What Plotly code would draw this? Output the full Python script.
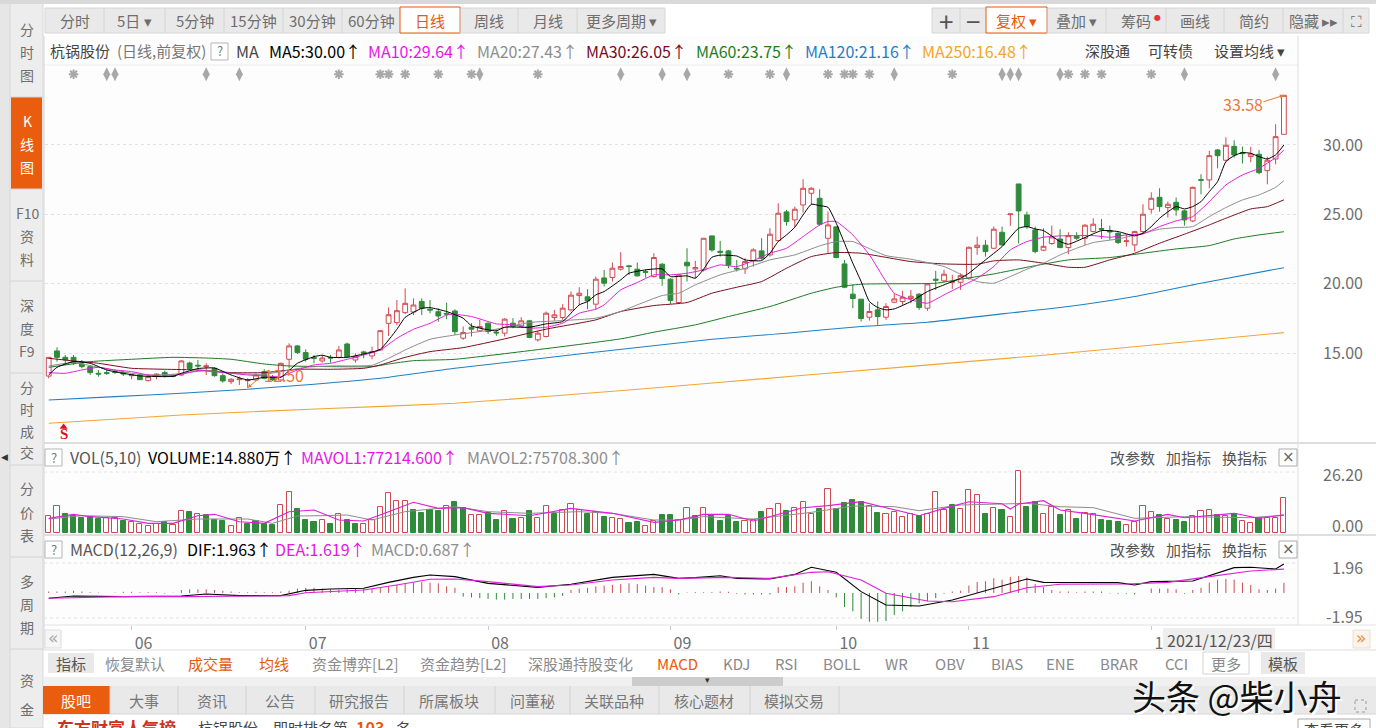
import plotly.graph_objects as go

W = 1376
H = 728
FONT = "Noto Sans CJK SC"

# daily bars, prices
open_ = [13.35,15.16,14.70,14.70,14.22,14.03,13.55,13.60,13.67,13.60,
         13.38,13.45,13.02,13.43,13.60,13.38,13.43,14.29,14.13,14.03,
         13.91,13.38,12.95,13.09,13.02,13.07,13.67,13.26,13.07,14.56,
         15.52,15.04,14.68,14.44,14.70,14.70,15.66,14.51,15.09,14.80,
         15.23,17.15,17.20,17.92,17.97,18.73,18.16,17.99,17.87,18.04,
         16.08,16.87,16.61,17.16,16.51,16.44,17.16,16.97,17.33,15.96,
         16.20,17.57,17.57,18.12,19.15,19.06,18.53,20.42,20.45,21.05,
         21.29,21.05,20.88,20.52,21.41,20.33,18.65,21.55,21.07,21.00,
         23.45,22.34,22.37,21.12,21.07,21.67,22.37,22.08,23.11,25.18,
         24.60,25.68,26.52,26.16,23.28,24.10,21.43,19.25,18.89,17.59,
         18.12,17.59,18.67,18.72,18.94,19.25,18.24,20.33,20.21,20.11,
         20.11,20.40,22.61,22.78,22.56,23.71,24.98,27.19,24.96,23.88,
         22.42,22.90,23.23,22.61,23.42,23.28,23.76,23.98,23.83,23.64,
         23.04,22.80,23.76,25.37,26.23,25.49,25.87,25.25,24.53,27.50,
         27.48,29.64,28.90,29.90,29.45,29.16,29.33,28.15,28.99,30.77]
high = [14.70,15.42,14.87,14.87,14.51,14.15,13.79,13.79,13.79,13.74,
        13.48,13.48,13.43,13.55,13.74,13.43,14.51,14.39,14.51,14.27,
        13.98,13.55,13.19,13.31,13.19,13.55,13.84,13.43,14.32,15.71,
        15.59,15.28,14.87,14.87,14.87,15.52,15.76,14.99,15.18,15.47,
        16.67,18.30,18.83,19.67,18.95,18.95,18.83,18.23,18.64,18.16,
        16.92,17.16,17.40,17.21,16.73,17.52,17.52,17.59,17.40,16.63,
        18.00,18.12,18.53,19.44,19.75,19.61,20.52,21.00,21.53,22.27,
        21.36,21.53,21.05,22.20,21.48,20.40,20.71,22.56,21.65,23.28,
        23.45,23.09,22.44,21.72,21.84,22.56,23.28,24.00,25.80,25.32,
        25.56,27.53,26.95,26.81,25.20,24.12,21.72,19.97,18.89,18.60,
        18.72,18.60,19.32,19.49,19.56,19.32,20.04,20.93,21.00,20.64,
        20.76,22.68,23.40,23.16,24.12,24.12,25.03,27.19,25.20,24.12,
        24.00,24.19,23.93,23.71,23.71,24.29,24.72,24.67,24.19,23.71,
        23.52,23.81,25.73,26.59,26.88,25.92,26.21,25.32,27.00,27.89,
        29.57,29.71,30.55,30.34,29.88,29.86,29.64,29.16,31.49,33.58]
low = [13.19,14.39,14.15,14.15,13.91,13.43,13.31,13.43,13.50,13.36,
       13.12,13.07,12.97,13.12,13.26,13.26,13.36,13.79,13.84,13.43,
       13.31,12.88,12.78,12.71,12.50,13.02,13.12,13.00,13.00,13.91,
       14.94,14.39,14.27,14.32,14.32,14.63,14.70,14.32,14.63,14.56,
       15.18,16.24,17.01,17.82,17.75,17.75,17.87,17.27,17.44,16.31,
       15.96,16.20,16.56,16.39,16.25,16.20,16.80,16.92,16.08,15.84,
       16.13,17.35,17.40,18.00,18.48,18.17,18.12,19.80,20.16,20.95,
       20.64,20.52,20.45,20.45,19.85,18.55,18.60,20.16,20.40,20.88,
       22.30,21.96,21.12,20.88,20.71,21.24,21.72,21.96,23.04,24.19,
       24.07,25.13,25.68,24.17,22.15,21.84,19.68,18.24,17.28,17.35,
       17.04,17.40,18.60,18.48,18.60,18.12,18.05,19.56,20.11,19.63,
       19.56,20.28,22.08,21.96,22.51,22.75,24.17,22.90,23.95,22.20,
       22.37,22.80,22.56,22.13,23.16,22.80,23.71,23.23,23.16,22.87,
       22.68,22.32,23.64,25.06,25.20,24.77,24.91,24.19,24.43,26.45,
       26.88,28.32,28.80,29.09,28.66,28.75,27.89,27.17,28.61,30.77]
close = [14.70,14.70,14.51,14.32,14.03,13.60,13.50,13.55,13.62,13.50,
         13.43,13.09,13.31,13.48,13.38,13.33,14.44,13.89,14.08,14.08,
         13.38,13.00,13.12,13.14,13.07,13.43,13.19,13.07,14.27,15.52,
         15.04,14.56,14.63,14.65,14.65,15.23,14.75,14.75,14.99,15.11,
         16.62,17.77,18.06,18.59,18.47,18.23,18.11,17.68,17.82,16.55,
         16.49,16.73,16.92,16.56,16.46,17.45,16.92,17.33,16.13,16.44,
         17.88,17.76,18.24,19.18,19.32,18.77,20.33,20.04,21.12,21.24,
         21.24,20.57,20.83,21.89,20.38,18.79,20.64,21.29,21.17,23.28,
         22.44,22.27,21.36,21.07,21.60,22.44,21.84,23.57,25.08,24.48,
         25.37,26.88,26.88,24.29,24.24,21.89,19.75,18.94,17.50,18.00,
         17.64,18.36,18.91,19.03,19.10,18.29,19.99,20.26,20.69,20.16,
         20.59,22.63,22.78,22.32,23.93,22.80,25.03,25.25,24.12,22.32,
         22.70,23.38,22.61,23.47,23.28,24.22,24.29,23.93,23.74,22.97,
         23.09,23.76,25.01,26.16,25.56,25.73,25.32,24.60,26.95,27.46,
         29.23,29.23,29.98,29.28,29.38,29.35,28.01,28.90,30.60,33.58]

# moving averages, read at the bars where the line bends
ma5_x = [0,1,3,5,7,9,11,15,16,18,20,22,24,26,28,30,32,33,34,36,38,40,42,43,45,46,48,
         50,51,53,54,55,58,60,62,63,64,65,66,67,69,70,72,74,75,77,78,79,80,81,83,84,86,87,88,89,90,91,92,93,94,95,96,97,98,99,
         100,101,102,104,106,108,110,111,112,113,115,117,118,119,120,122,123,125,127,129,131,132,133,134,136,137,138,139,140,141,142,143,144,145,146,147,148,149]
ma5_y = [13.43,13.98,14.39,14.27,13.79,13.55,13.36,13.33,13.55,13.89,13.93,13.43,13.07,13.26,13.26,14.27,14.75,14.85,14.70,14.70,14.94,15.28,16.72,17.58,18.23,18.28,18.00,
         17.52,16.97,16.68,16.61,16.87,16.87,17.11,17.28,17.88,18.48,18.72,19.20,19.44,20.28,20.76,21.00,21.07,20.52,20.57,20.40,21.05,21.91,22.06,22.00,21.72,21.67,22.20,23.04,23.52,24.07,24.96,25.73,25.63,25.51,24.36,22.92,21.48,20.16,18.72,
         18.29,18.12,18.19,18.72,19.44,19.92,20.40,20.76,21.24,21.72,22.68,24.00,24.12,23.95,23.83,23.04,22.85,23.33,23.83,23.76,23.45,23.64,24.12,24.72,25.56,25.39,25.56,25.92,26.64,27.36,28.80,29.23,29.45,29.40,29.16,28.99,29.28,30.00]
ma10_x = [0,2,4,6,8,10,12,14,16,18,20,22,24,26,28,30,32,34,36,38,40,42,44,46,48,49,
          51,53,54,56,58,60,62,64,66,67,69,71,73,75,77,79,81,83,85,87,89,91,93,94,95,97,99,
          101,102,104,106,108,110,112,114,116,118,120,122,124,126,128,130,132,134,136,138,140,142,144,146,148,149]
ma10_y = [13.60,13.55,13.79,13.98,13.79,13.67,13.43,13.36,13.48,13.74,13.67,13.55,13.43,13.36,13.31,13.79,14.15,14.27,14.56,14.87,15.23,16.07,16.72,17.15,17.75,17.80,
          17.64,17.28,17.11,17.04,16.80,16.87,17.16,17.88,18.17,18.48,19.56,20.09,20.64,20.64,20.76,21.00,21.36,21.24,21.67,22.20,22.56,23.40,24.24,24.48,24.48,23.52,22.08,
          20.16,19.32,18.84,18.60,19.20,19.80,20.40,21.24,22.44,23.04,23.35,23.45,23.47,23.47,23.35,23.52,23.59,24.12,24.53,24.84,25.92,27.12,27.84,28.32,29.09,29.64]
ma20_x = [0,3,6,10,12,15,19,22,26,28,31,34,39,41,43,46,49,54,58,62,66,69,71,74,76,78,81,84,87,90,93,95,97,98,
          101,104,108,110,112,114,116,118,120,122,124,126,129,132,134,136,138,140,142,144,146,148,149]
ma20_y = [14.08,14.32,13.98,13.55,13.43,13.48,13.74,13.55,13.48,13.67,13.98,14.08,14.13,14.63,15.23,16.00,16.31,16.73,17.21,17.35,17.52,18.00,18.48,19.15,19.32,19.92,20.64,21.12,21.72,22.08,22.73,23.04,23.04,22.80,
          22.03,21.77,21.24,20.69,20.16,20.04,20.52,21.05,21.48,22.08,22.56,22.97,23.23,23.64,23.93,24.05,24.12,24.84,25.49,26.04,26.40,26.95,27.43]
ma30_x = [0,3,6,10,14,18,22,26,30,34,38,40,43,46,50,55,60,66,69,73,77,80,83,86,89,92,95,98,
          104,108,112,114,117,120,123,125,128,131,134,137,140,142,145,147,149]
ma30_y = [14.63,14.44,14.27,13.91,13.84,13.79,13.60,13.60,13.84,13.84,13.91,14.15,14.70,15.11,15.40,16.03,16.73,17.40,18.00,18.43,18.65,19.32,19.75,20.16,21.12,21.96,22.25,22.20,
          21.60,21.43,21.41,21.65,21.72,21.48,21.19,21.19,21.72,22.20,22.92,23.57,24.24,24.72,25.39,25.56,26.05]
ma60_x = [0,5,10,15,19,22,26,29,34,39,41,44,49,69,73,78,82,87,92,95,98,107,110,114,118,123,128,132,136,140,143,146,149]
ma60_y = [13.98,14.39,14.56,14.70,14.65,14.56,14.22,14.08,14.03,14.03,14.22,14.46,14.56,16.03,16.51,17.04,17.64,18.36,19.32,19.75,19.97,20.04,20.33,20.71,21.19,21.72,21.89,22.20,22.51,22.75,23.23,23.52,23.75]
ma120_x = [0,8,16,24,32,40,49,80,89,98,106,115,123,131,139,149]
ma120_y = [11.63,11.87,12.11,12.40,12.76,13.19,13.91,16.00,16.44,16.92,17.23,17.83,18.36,19.08,20.04,21.16]
ma250_x = [0,16,33,49,70,90,120,149]
ma250_y = [9.95,10.55,11.00,11.39,12.35,13.35,14.85,16.48]

# volume in units of 10k lots; vol_up 1 = hollow red, 0 = solid green
volume = [7.09,11.34,7.94,7.23,6.24,6.81,5.96,6.38,6.52,5.10,
          4.54,3.83,2.98,3.83,4.54,3.40,9.36,8.93,7.94,7.52,
          5.67,5.10,2.84,6.24,3.83,4.96,3.69,3.40,11.77,17.30,
          10.21,5.53,4.68,5.53,3.97,7.94,5.67,3.97,3.69,5.53,
          11.06,16.87,13.61,13.61,9.78,8.65,9.64,9.22,11.34,13.19,
          10.49,7.66,7.66,8.51,5.67,9.22,6.10,6.52,9.36,6.38,
          11.34,7.94,9.64,12.48,9.64,8.22,8.79,6.81,6.24,6.10,
          4.40,4.68,2.84,5.25,7.66,7.52,5.39,10.49,7.37,10.49,
          7.66,5.10,7.37,4.68,5.10,5.67,8.79,10.21,12.19,9.36,
          10.49,13.05,8.08,10.21,18.58,10.35,12.76,14.04,13.33,11.49,
          8.51,7.94,8.79,6.81,7.94,7.37,7.94,17.30,9.64,11.91,
          10.07,18.15,16.17,8.22,10.49,9.93,6.66,26.20,11.06,13.05,
          7.94,11.06,7.80,9.78,5.96,8.37,8.22,5.53,5.10,4.82,
          3.40,4.82,11.34,8.79,7.52,5.96,5.67,4.68,7.09,9.36,
          9.64,7.66,7.37,7.94,5.10,4.25,6.52,6.24,6.52,14.88]
vol_up = [1,1,0,0,0,0,0,1,1,0, 1,1,1,1,0,1,1,0,1,0, 0,0,1,1,0,0,0,0,1,1,
          0,0,0,1,0,1,0,0,1,1, 1,1,1,1,0,0,0,0,1,0, 0,1,1,0,0,1,0,1,0,1,
          1,0,1,1,1,0,1,0,1,1, 0,0,1,1,0,0,1,1,0,1, 0,0,0,0,1,1,0,1,1,0,
          1,1,1,0,1,0,0,0,0,1, 0,1,1,1,1,0,1,1,1,0, 1,1,1,0,1,0,1,1,0,0,
          1,1,0,1,0,1,1,0,0,0, 1,1,1,1,0,1,0,0,1,1, 1,0,1,0,1,1,0,1,1,1]
mavol1_x = [0,3,5,9,12,15,18,20,23,26,29,32,35,38,41,44,47,50,53,58,63,68,73,76,79,82,85,89,91,94,98,101,105,108,111,115,116,117,120,122,125,131,135,137,143,146,149]
mavol1_y = [6.24,7.94,6.95,5.96,4.11,4.11,7.37,7.94,4.82,4.11,9.08,9.78,5.53,5.10,9.08,13.05,10.49,10.78,8.37,7.37,10.49,8.37,4.54,5.53,7.94,7.94,5.10,9.08,10.78,11.63,13.33,10.78,7.37,10.49,13.33,12.48,10.21,12.34,13.75,9.78,8.37,5.10,7.94,6.52,8.37,6.24,7.72]
mavol2_x = [0,4,9,13,18,24,27,30,33,36,39,43,49,53,58,64,68,73,76,79,85,92,97,102,105,110,118,122,126,131,137,145,149]
mavol2_y = [5.96,7.37,6.95,4.82,5.96,5.96,4.11,7.23,7.37,7.66,5.53,9.08,11.20,9.08,8.37,9.08,8.37,5.53,5.53,6.95,5.96,8.79,11.49,11.20,9.50,11.91,12.62,11.20,10.78,6.24,6.95,6.52,7.57]

# MACD
dif_x = [0,3,9,16,19,23,28,31,34,38,41,44,46,49,53,59,63,68,73,76,78,81,83,87,90,92,95,98,101,105,109,113,118,120,129,131,133,138,143,145,148,149]
dif_y = [-0.36,-0.20,-0.25,-0.20,-0.07,-0.18,-0.18,0.18,0.27,0.32,0.72,1.06,1.22,1.11,0.65,0.38,0.59,1.06,1.26,0.99,1.04,1.17,0.99,0.95,1.26,1.74,1.40,0.09,-0.81,-0.88,-0.47,0.14,0.95,0.72,0.70,0.54,0.77,0.81,1.72,1.74,1.63,1.963]
dea_x = [0,9,16,29,31,38,42,46,49,53,59,63,68,73,76,82,87,92,94,98,101,106,109,114,118,122,130,135,140,145,149]
dea_y = [-0.36,-0.25,-0.25,-0.18,0.02,0.20,0.54,0.93,0.95,0.77,0.43,0.54,0.88,1.06,0.99,1.06,0.99,1.40,1.44,0.88,-0.02,-0.54,-0.59,-0.25,0.36,0.59,0.61,0.72,1.11,1.49,1.619]
macd = [0.10,0.10,0.10,0.15,0.10,0.05,0.03,0.00,0.03,0.08,
        0.08,0.05,0.06,0.05,-0.04,0.02,0.20,0.25,0.25,0.25,
        0.20,0.15,0.10,0.05,0.05,0.08,0.05,0.05,0.10,0.15,
        0.30,0.35,0.35,0.30,0.25,0.20,0.25,0.30,0.30,0.30,
        0.35,0.45,0.55,0.65,0.70,0.75,0.70,0.65,0.45,0.35,
        -0.25,-0.30,-0.35,-0.40,-0.45,-0.45,-0.40,-0.40,-0.40,-0.40,
        -0.35,-0.30,-0.20,0.20,0.30,0.35,0.45,0.50,0.55,0.60,
        0.65,0.60,0.50,0.40,0.40,0.25,-0.10,0.03,0.06,0.05,
        0.06,0.10,0.08,-0.05,-0.10,-0.10,-0.10,-0.10,0.40,0.40,
        0.45,0.70,0.80,0.45,0.20,-0.30,-0.95,-1.25,-1.75,-1.95,
        -1.95,-1.90,-1.50,-1.25,-0.95,-0.70,-0.55,-0.35,-0.05,0.10,
        0.15,0.50,0.75,0.80,1.00,0.90,1.10,1.15,1.05,0.60,
        0.40,0.20,0.10,0.10,0.05,0.10,0.10,0.10,-0.03,-0.05,
        -0.05,-0.10,0.00,0.30,0.30,0.30,0.25,-0.05,0.20,0.35,
        0.70,0.90,0.95,0.90,0.70,0.55,0.25,0.20,0.30,0.687]

# news / notice flags along the top of the price panel
flag_star = [3,35,40,41,43,47,51,59,82,87,94,96,97,99,109,123,125,127,133]
flag_diamond = [7,8,19,23,52,69,74,77,89,102,115,116,117,122,137,148]
event_low_bar = 24
event_low_price = 12.50
event_high_price = 33.58

price_ticks = [30, 25, 20, 15]
price_labels = ["30.00", "25.00", "20.00", "15.00"]
month_ticks = [10, 31, 53, 75, 95, 111, 133]
month_labels = ["06", "07", "08", "09", "10", "11", "12"]

RED = "#cf4a50"
GREEN = "#2f8a3a"
MAGENTA = "#e01fd8"
GRAY = "#8c8c8c"
MAROON = "#76101f"
DGREEN = "#1f7a25"
BLUE = "#1f80c4"
ORANGE = "#f2a533"
TXT = "#6e6e6e"
ACCENT = "#e8590c"
BAND = "#e9e9e9"

n = len(close)
bars = list(range(n))

fig = go.Figure()
fig.add_trace(go.Candlestick(x=bars, open=open_, high=high, low=low, close=close,
                             increasing=dict(line=dict(color=RED, width=1), fillcolor="#ffffff"),
                             decreasing=dict(line=dict(color=GREEN, width=1), fillcolor=GREEN),
                             whiskerwidth=0, xaxis="x", yaxis="y"))
for xs, ys, col, w in [(ma250_x, ma250_y, ORANGE, 1.1), (ma120_x, ma120_y, BLUE, 1.1), (ma60_x, ma60_y, DGREEN, 1),
                       (ma30_x, ma30_y, MAROON, 1), (ma20_x, ma20_y, GRAY, 1), (ma10_x, ma10_y, MAGENTA, 1),
                       (ma5_x, ma5_y, "#000000", 1)]:
    fig.add_trace(go.Scatter(x=xs, y=ys, mode="lines", line=dict(color=col, width=w, shape="spline", smoothing=0.5),
                             xaxis="x", yaxis="y"))
fig.add_trace(go.Scatter(x=flag_star, y=[35.1] * len(flag_star), mode="markers",
                         marker=dict(symbol="asterisk-open", size=8, color="#a8a8a8", line=dict(color="#a8a8a8", width=2)),
                         xaxis="x", yaxis="y"))
fig.add_trace(go.Scatter(x=flag_diamond, y=[35.1] * len(flag_diamond), mode="markers",
                         marker=dict(symbol="diamond-tall", size=10, color="#a8a8a8"), xaxis="x", yaxis="y"))
fig.add_trace(go.Scatter(x=[1.8], y=[9.68], mode="markers", marker=dict(symbol="triangle-up", size=7, color="#d8131b"),
                         xaxis="x", yaxis="y"))

fig.add_trace(go.Bar(x=bars, y=volume, width=0.62,
                     marker=dict(color=["#ffffff" if u else GREEN for u in vol_up],
                                 line=dict(color=[RED if u else GREEN for u in vol_up], width=1)),
                     xaxis="x2", yaxis="y2"))
fig.add_trace(go.Scatter(x=mavol2_x, y=mavol2_y, mode="lines", line=dict(color=GRAY, width=1), xaxis="x2", yaxis="y2"))
fig.add_trace(go.Scatter(x=mavol1_x, y=mavol1_y, mode="lines", line=dict(color=MAGENTA, width=1.1), xaxis="x2", yaxis="y2"))

# histogram as hairlines, one stem per bar
for col, keep in [(RED, lambda v: v >= 0), (GREEN, lambda v: v < 0)]:
    sx, sy = [], []
    for i, v in enumerate(macd):
        if keep(v):
            sx += [i, i, None]
            sy += [0, v, None]
    fig.add_trace(go.Scatter(x=sx, y=sy, mode="lines", line=dict(color=col, width=1), xaxis="x3", yaxis="y3"))
fig.add_trace(go.Scatter(x=dif_x, y=dif_y, mode="lines", line=dict(color="#000000", width=1.1), xaxis="x3", yaxis="y3"))
fig.add_trace(go.Scatter(x=dea_x, y=dea_y, mode="lines", line=dict(color=MAGENTA, width=1.1), xaxis="x3", yaxis="y3"))


# the page around the chart is laid out in screen pixels
def fx(x):
    return x / W


def fy(y):
    return 1 - y / H


shapes = []
notes = []


def rect(x0, y0, x1, y1, fill=None, line=None, layer="below", dash=None, lw=1):
    shapes.append(dict(type="rect", xref="paper", yref="paper", x0=fx(x0), x1=fx(x1), y0=fy(y0), y1=fy(y1),
                       fillcolor=fill or "rgba(0,0,0,0)", layer=layer,
                       line=dict(color=line or "rgba(0,0,0,0)", width=lw if line else 0, dash=dash or "solid")))


def hline(x0, x1, y, color="#dcdcdc", dash="solid", layer="below", lw=1):
    shapes.append(dict(type="line", xref="paper", yref="paper", x0=fx(x0), x1=fx(x1), y0=fy(y), y1=fy(y),
                       line=dict(color=color, width=lw, dash=dash), layer=layer))


def vline(x, y0, y1, color="#dcdcdc", layer="below"):
    shapes.append(dict(type="line", xref="paper", yref="paper", x0=fx(x), x1=fx(x), y0=fy(y0), y1=fy(y1),
                       line=dict(color=color, width=1), layer=layer))


def label(x, y, text, color=TXT, size=15, anchor="left", font=FONT):
    notes.append(dict(xref="paper", yref="paper", x=fx(x), y=fy(y), text=text, showarrow=False, xanchor=anchor,
                      yanchor="middle", font=dict(family=font, size=size, color=color), borderpad=0, borderwidth=0))


# left side menu
rect(0, 0, 10, H, "#e6e6e6")
rect(10, 0, 43, H, "#ededed", "#d8d8d8")
rect(11, 97, 42, 189, "#ea5d0e")
for y in [97, 189, 281, 373, 465, 557, 649]:
    hline(10, 43, y, "#d4d4d4")
side_items = [("分", 29), ("时", 52), ("图", 75), ("K", 121), ("线", 144), ("图", 167), ("F10", 213), ("资", 236), ("料", 259),
              ("深", 305), ("度", 328), ("F9", 351), ("分", 387), ("时", 409), ("成", 431), ("交", 452), ("分", 488), ("价", 512),
              ("表", 535), ("多", 581), ("周", 604), ("期", 627), ("资", 680), ("金", 709)]
for t, y in side_items:
    label(27, y, t, "#ffffff" if 97 < y < 189 else TXT, 14, "center")
label(4, 457, "◀", "#333333", 9, "center", "DejaVu Sans")

# top strip and toolbars
rect(0, 0, W, 4, "#d9d9d9")
rect(45, 8, 665, 33, BAND, "#d6d6d6")
edges = [45, 104, 165, 224, 283, 342, 400, 460, 518, 577, 665]
names = ["分时", "5日 ▾", "5分钟", "15分钟", "30分钟", "60分钟", "日线", "周线", "月线", "更多周期 ▾"]
for i, t in enumerate(names):
    if t == "日线":
        rect(edges[i], 7, edges[i + 1], 33, "#ffffff", ACCENT)
    elif i > 0:
        vline(edges[i], 8, 33, "#d4d4d4")
    label((edges[i] + edges[i + 1]) / 2, 20, t, ACCENT if t == "日线" else TXT, 15, "center")
rect(932, 8, 1369, 33, BAND, "#d6d6d6")
edges = [932, 960, 986, 1047, 1106, 1166, 1224, 1283, 1343, 1369]
names = ["+", "−", "复权 ▾", "叠加 ▾", "筹码", "画线", "简约", "隐藏 ▸▸", "⛶"]
for i, t in enumerate(names):
    if t.startswith("复权"):
        rect(edges[i], 7, edges[i + 1], 33, "#ffffff", ACCENT)
    elif i > 0:
        vline(edges[i], 8, 33, "#d4d4d4")
    size = 26 if i < 2 else 15
    label((edges[i] + edges[i + 1]) / 2, 20, t, ACCENT if i == 2 else ("#555555" if i < 2 else TXT), size, "center")
label(1157, 17, "●", "#e8323c", 8, "center", "DejaVu Sans")

# chart background and panel lines
rect(44, 36, 1298, 625, "#fdfdfd")
rect(1298, 36, W, 625, "#ffffff")
hline(44, 1298, 65, "#ececec")
hline(44, W, 443, "#dedede", lw=2)
hline(44, W, 535, "#dedede", lw=2)
hline(44, W, 625, "#e2e2e2")
vline(1298, 36, 625, "#dddddd")
vline(44, 36, 650, "#d4d4d4")
hline(44, 1298, 472, "#e2e2e2", "dot")
hline(44, 1298, 563, "#e2e2e2", "dot")
hline(44, 1298, 618, "#e2e2e2", "dot")

# price panel caption row
label(50, 51, "杭锅股份", "#444444", 15)
label(117, 51, "(日线,前复权)", "#777777", 15)
rect(211, 43, 228, 60, "#ffffff", "#b5b5b5")
label(219.5, 51, "?", "#777777", 13, "center")
label(236, 51, "MA", "#444444", 16)
for x, t, col in [(269, "MA5:30.00↑", "#000000"), (368, "MA10:29.64↑", "#e815e8"), (477, "MA20:27.43↑", "#8e8e8e"),
                  (586, "MA30:26.05↑", "#7a0a1e"), (696, "MA60:23.75↑", "#1e7d24"), (805, "MA120:21.16↑", "#1e7ec8"),
                  (922, "MA250:16.48↑", "#f5a623")]:
    label(x, 51, t, col, 16)
label(1085, 51, "深股通", "#444444", 15)
label(1148, 51, "可转债", "#444444", 15)
label(1214, 51, "设置均线 ▾", "#444444", 15)

# volume and MACD caption rows
for y, rows in [(457, [(70, "VOL(5,10)", "#555555"), (148, "VOLUME:14.880万↑", "#000000"), (301, "MAVOL1:77214.600↑", "#e815e8"),
                       (467, "MAVOL2:75708.300↑", "#8e8e8e")]),
                (549, [(70, "MACD(12,26,9)", "#555555"), (187, "DIF:1.963↑", "#000000"), (275, "DEA:1.619↑", "#e815e8"),
                       (371, "MACD:0.687↑", "#8e8e8e")])]:
    rect(45, y - 8, 62, y + 9, "#ffffff", "#b5b5b5")
    label(53.5, y, "?", "#777777", 13, "center")
    for x, t, col in rows:
        label(x, y, t, col, 16)
    label(1110, y, "改参数", "#555555", 15)
    label(1166, y, "加指标", "#555555", 15)
    label(1222, y, "换指标", "#555555", 15)
    rect(1279, y - 8, 1297, y + 9, "#ffffff", "#aaaaaa")
    label(1288, y, "×", "#666666", 15, "center", "DejaVu Sans")

# date strip
rect(45, 630, 61, 648, "#f6f6f6", "#dddddd")
label(53, 638, "«", "#aaaaaa", 17, "center", "DejaVu Sans")
rect(1353, 630, 1370, 648, "#fbf4ee", "#f0dcc8")
label(1361, 638, "»", "#f0903a", 17, "center", "DejaVu Sans")
rect(1163, 628, 1275, 650, "#eeeeee", layer="above")
label(1167, 640, "2021/12/23/四", "#555555", 16)

# indicator tabs
hline(44, W, 650, "#dddddd")
rect(48, 653, 94, 673, BAND)
label(71, 663, "指标", "#555555", 15, "center")
for x, t, col in [(105, "恢复默认", "#8a8a8a"), (188, "成交量", ACCENT), (259, "均线", ACCENT), (312, "资金博弈[L2]", "#8a8a8a"),
                  (420, "资金趋势[L2]", "#8a8a8a"), (528, "深股通持股变化", "#8a8a8a"), (657, "MACD", ACCENT), (723, "KDJ", "#8a8a8a"),
                  (775, "RSI", "#8a8a8a"), (823, "BOLL", "#8a8a8a"), (885, "WR", "#8a8a8a"), (935, "OBV", "#8a8a8a"),
                  (991, "BIAS", "#8a8a8a"), (1046, "ENE", "#8a8a8a"), (1100, "BRAR", "#8a8a8a"), (1165, "CCI", "#8a8a8a")]:
    label(x, 663, t, col, 15)
rect(1203, 652, 1249, 674, "#ffffff", "#d4d4d4")
label(1226, 663, "更多", "#8a8a8a", 15, "center")
rect(1261, 652, 1305, 674, BAND)
label(1283, 663, "模板", "#555555", 15, "center")

# scroll band and news tabs
rect(44, 677, W, 686, "#f0f0f0")
rect(632, 677, 783, 686, "#cccccc")
label(707, 680, "▾", "#333333", 9, "center", "DejaVu Sans")
rect(44, 686, W, 714, BAND)
hline(44, W, 714, "#d4d4d4")
rect(43, 686, 110, 714, "#ea5d0e")
label(76, 700, "股吧", "#ffffff", 15, "center")
for x in [110, 178, 246, 315, 404, 495, 570, 659, 750, 839]:
    vline(x, 686, 714, "#d2d2d2")
for x, t in [(144, "大事"), (212, "资讯"), (280, "公告"), (359, "研究报告"), (449, "所属板块"), (532, "问董秘"), (614, "关联品种"),
             (704, "核心题材"), (794, "模拟交易")]:
    label(x, 700, t, "#777777", 15, "center")

# cut-off ranking row
label(57, 727, "<b>东方财富人气榜</b>", "#c9341f", 17)
label(198, 727, "杭锅股份", "#444444", 15)
label(273, 727, "即时排名第", "#444444", 15)
label(356, 727, "<b>103</b>", ACCENT, 16)
label(396, 727, "名", "#444444", 15)
rect(1298, 719, 1370, 740, "#ffffff", "#aaaaaa")
label(1334, 729, "查看更多", "#444444", 15, "center")

# watermark
rect(1355, 700, 1366, 712, None, "#999999", "above", "dot")
label(1134, 697, "头条 @柴小舟", "#ffffff", 34)
label(1132, 695, "头条 @柴小舟", "#111111", 34)

# value labels on the right hand axes, tied to the axis scales
for t, v, ref, shift in [("26.20", 26.2, "y2", -3), ("0.00", 0, "y2", 8), ("1.96", 1.96, "y3", -3), ("-1.95", -1.95, "y3", 6)]:
    notes.append(dict(xref="paper", yref=ref, x=fx(1365), y=v, yshift=shift, text=t, showarrow=False, xanchor="right",
                      font=dict(family=FONT, size=16, color=TXT)))

# high and low call-outs
notes.append(dict(xref="x", yref="y", x=149, y=event_high_price, ax=-22, ay=7, text="", showarrow=True,
                  arrowhead=2, arrowsize=0.8, arrowwidth=1, arrowcolor="#e8793a"))
notes.append(dict(xref="x", yref="y", x=148.5, y=event_high_price, xanchor="right", yanchor="middle", xshift=-15, yshift=-9,
                  text=str(event_high_price), showarrow=False, font=dict(family=FONT, size=16, color="#e8793a")))
notes.append(dict(xref="x", yref="y", x=event_low_bar, y=event_low_price, ax=12, ay=-10, text="", showarrow=True,
                  arrowhead=2, arrowsize=0.8, arrowwidth=1, arrowcolor="#e8793a"))
notes.append(dict(xref="x", yref="y", x=event_low_bar, y=event_low_price, xanchor="left", yanchor="middle", xshift=14, yshift=13,
                  text="%.2f" % event_low_price, showarrow=False, font=dict(family=FONT, size=16, color="#e8793a")))
notes.append(dict(xref="x", yref="y", x=1.8, y=9.17, text="<b>S</b>", showarrow=False,
                  font=dict(family="Liberation Serif", size=15, color="#d8131b")))

xr = [(45 - 48.7) / 8.29, (1298 - 48.7) / 8.29]
xdom = [fx(45), fx(1298)]
fig.update_layout(
    width=W, height=H, margin=dict(l=0, r=0, t=0, b=0), paper_bgcolor="#ffffff", plot_bgcolor="rgba(0,0,0,0)",
    showlegend=False, hovermode=False, boxgap=0.42, boxgroupgap=0, bargap=0, barmode="overlay",
    font=dict(family=FONT, size=14, color=TXT), shapes=shapes, annotations=notes,
    xaxis=dict(domain=xdom, range=xr, anchor="y", showticklabels=False, showgrid=False, zeroline=False,
               rangeslider=dict(visible=False), fixedrange=True),
    xaxis2=dict(domain=xdom, range=xr, anchor="y2", showticklabels=False, showgrid=False, zeroline=False, fixedrange=True),
    xaxis3=dict(domain=xdom, range=xr, anchor="y3", tickmode="array", tickvals=month_ticks, ticktext=month_labels,
                ticks="outside", ticklen=4, tickcolor="#cccccc", ticklabelshift=12, ticklabelstandoff=0,
                tickfont=dict(family=FONT, size=16, color=TXT), showgrid=False, zeroline=False, fixedrange=True),
    yaxis=dict(domain=[fy(442), fy(66)], range=[8.60, 35.69], side="right", anchor="x", tickmode="array",
               tickvals=price_ticks, ticktext=price_labels, ticks="", ticklabelstandoff=24,
               tickfont=dict(family=FONT, size=16, color=TXT), gridcolor="#e2e2e2", griddash="dot", gridwidth=1,
               zeroline=False, fixedrange=True),
    yaxis2=dict(domain=[fy(535), fy(443)], range=[-0.85, 38.3], side="right", anchor="x2", showticklabels=False,
                showgrid=False, zeroline=False, fixedrange=True),
    yaxis3=dict(domain=[fy(625), fy(535)], range=[-2.17, 3.93], side="right", anchor="x3", showticklabels=False,
                showgrid=False, zeroline=False, fixedrange=True),
)

fig.write_html("out.html", config=dict(displayModeBar=False), post_script="document.body.style.margin='0';")
